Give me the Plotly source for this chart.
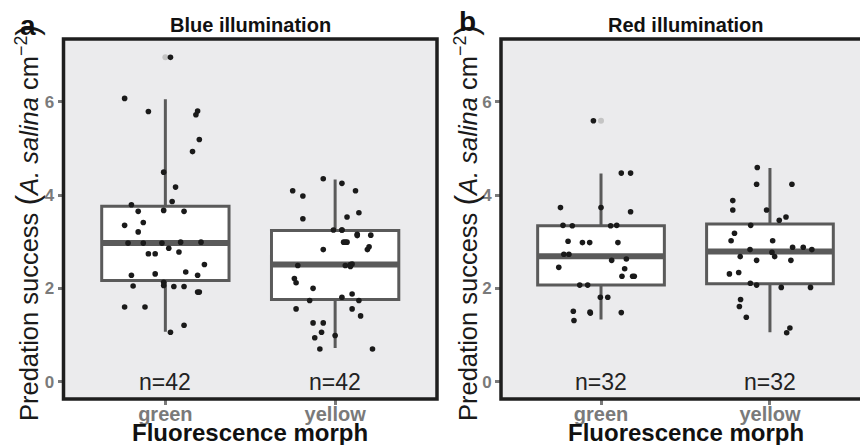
import plotly.graph_objects as go

# ---------------- data ----------------
categories = ["green", "yellow"]
panel_letters = ["a", "b"]
panel_titles = ["Blue illumination", "Red illumination"]
y_ticks = [0, 2, 4, 6]

# Panel a (blue illumination): jittered observations
a_green_y = [6.95, 6.07, 5.79, 5.80, 5.72, 5.19, 4.93, 4.49, 4.17, 3.86, 3.79, 3.65, 3.67, 3.65,
             3.35, 3.41, 3.21, 2.97, 2.97, 2.97, 2.99, 2.99, 2.86, 2.74, 2.74, 2.78, 2.51, 2.28,
             2.31, 2.35, 2.28, 2.13, 2.05, 2.06, 2.04, 2.04, 1.92, 1.92, 1.60, 1.60, 1.21, 1.06]
a_green_jit = [0.03, -0.24, -0.10, 0.19, 0.18, 0.20, 0.16, -0.01, 0.06, 0.04, -0.20, -0.16, -0.01, 0.11,
               -0.24, -0.13, -0.16, -0.22, -0.13, -0.02, 0.09, 0.21, 0.02, -0.10, -0.06, 0.08, 0.23, -0.20,
               -0.06, 0.12, 0.19, -0.01, -0.19, -0.01, 0.05, 0.11, 0.19, 0.20, -0.24, -0.12, 0.11, 0.03]
a_yellow_y = [4.35, 4.25, 4.09, 3.98, 4.09, 3.62, 3.49, 3.53, 3.25, 3.25, 3.16, 3.13, 3.14, 2.99,
              2.99, 2.83, 2.89, 2.83, 2.49, 2.49, 2.51, 2.52, 2.47, 2.21, 2.12, 2.00, 1.81, 1.88,
              1.74, 1.74, 1.56, 1.56, 1.41, 1.26, 1.26, 1.06, 0.99, 0.94, 0.70, 0.70, 2.99, 3.25]
a_yellow_jit = [-0.07, 0.04, -0.25, -0.19, 0.12, 0.14, -0.19, 0.07, -0.01, 0.04, 0.13, 0.13, 0.21, 0.05,
                0.07, -0.07, 0.20, 0.19, -0.22, 0.06, 0.09, 0.10, 0.09, -0.24, -0.23, -0.13, 0.04, 0.10,
                -0.15, 0.14, -0.23, 0.10, 0.15, -0.13, -0.07, -0.08, 0.00, -0.12, -0.09, 0.22, 0.06, 0.04]

# Panel b (red illumination)
b_green_y = [5.59, 4.47, 4.47, 3.73, 3.73, 3.64, 3.35, 3.34, 3.34, 3.35, 3.01, 2.98, 2.98, 2.98, 2.73, 2.73,
             2.60, 2.63, 2.45, 2.42, 2.26, 2.26, 2.26, 2.07, 2.07, 1.81, 1.81, 1.51, 1.49, 1.47, 1.48, 1.31]
b_green_jit = [-0.045, 0.12, 0.175, -0.24, 0.0, 0.175, -0.225, -0.17, 0.057, 0.093, -0.195, -0.11, -0.067, 0.10,
               -0.22, -0.19, 0.063, 0.15, -0.25, 0.14, 0.124, 0.187, 0.197, -0.126, -0.079, -0.004, 0.04,
               -0.164, -0.065, -0.063, 0.12, -0.16]
b_yellow_y = [4.59, 4.23, 4.23, 3.88, 3.68, 3.68, 3.46, 3.53, 3.35, 3.18, 3.02, 3.02, 2.83, 2.88, 2.88, 2.83,
              2.77, 2.68, 2.68, 2.60, 2.60, 2.31, 2.34, 2.11, 2.07, 2.02, 2.02, 1.76, 1.61, 1.38, 1.15, 1.05]
b_yellow_jit = [-0.075, -0.079, 0.13, -0.22, -0.22, -0.02, 0.055, 0.095, -0.114, -0.21, -0.23, 0.016, -0.118,
                0.134, 0.197, 0.248, 0.012, 0.028, -0.176, -0.079, 0.124, -0.24, -0.185, -0.116, -0.079,
                0.067, 0.24, -0.174, -0.181, -0.14, 0.118, 0.099]

# Box statistics [green, yellow]
a_q1 = [2.17, 1.76]
a_median = [2.97, 2.51]
a_q3 = [3.76, 3.24]
a_lower = [1.07, 0.72]
a_upper = [6.05, 4.33]
a_outliers = [[6.95], []]

b_q1 = [2.07, 2.10]
b_median = [2.69, 2.79]
b_q3 = [3.34, 3.38]
b_lower = [1.33, 1.06]
b_upper = [4.46, 4.58]
b_outliers = [[5.59], []]

# ---------------- styling ----------------
W, H = 860, 445
FONT = "Liberation Sans, Arial, Helvetica, sans-serif"
BOX_W = 0.75
BOX_COL = "#5a5a5a"
PT_COL = "#1a1a1a"
OUT_COL = "#c4c4c4"
BORDER = "#1e1e1e"
TICK_COL = "#7a7a7a"

panels = [
    dict(ys=[a_green_y, a_yellow_y], jit=[a_green_jit, a_yellow_jit], q1=a_q1, med=a_median, q3=a_q3,
         lo=a_lower, hi=a_upper, out=a_outliers),
    dict(ys=[b_green_y, b_yellow_y], jit=[b_green_jit, b_yellow_jit], q1=b_q1, med=b_median, q3=b_q3,
         lo=b_lower, hi=b_upper, out=b_outliers),
]

# pixel geometry of the panels
x_dom = [(63.5 / W, 437 / W), (501 / W, 1.0)]
x_rng = [(-0.6, 1.6), (-0.592, 1.533)]
y_dom = (1 - 399 / H, 1 - 39 / H)
y_rng = (-0.371, 7.343)
cx = [0, 1]

fig = go.Figure()
annotations = []
shapes = []

for p, pan in enumerate(panels):
    xr = "x" if p == 0 else "x2"
    yr = "y" if p == 0 else "y2"
    fig.add_trace(go.Box(
        x=cx, q1=pan["q1"], median=pan["med"], q3=pan["q3"],
        lowerfence=pan["lo"], upperfence=pan["hi"],
        width=BOX_W, whiskerwidth=0, fillcolor="white",
        line=dict(color=BOX_COL, width=3), boxpoints=False,
        xaxis=xr, yaxis=yr, hoverinfo="skip"))
    # thicker median bars
    for i in range(2):
        fig.add_trace(go.Scatter(
            x=[cx[i] - BOX_W / 2, cx[i] + BOX_W / 2], y=[pan["med"][i]] * 2,
            mode="lines", line=dict(color=BOX_COL, width=6),
            xaxis=xr, yaxis=yr, hoverinfo="skip"))
    # outliers (light grey, at the category centre)
    for i in range(2):
        if pan["out"][i]:
            fig.add_trace(go.Scatter(
                x=[cx[i]] * len(pan["out"][i]), y=pan["out"][i], mode="markers",
                marker=dict(color=OUT_COL, size=6), xaxis=xr, yaxis=yr, hoverinfo="skip"))
    # jittered points
    for i in range(2):
        fig.add_trace(go.Scatter(
            x=[cx[i] + d for d in pan["jit"][i]], y=pan["ys"][i], mode="markers",
            marker=dict(color=PT_COL, size=5.6), xaxis=xr, yaxis=yr, hoverinfo="skip"))
        annotations.append(dict(
            x=cx[i], y=0, xref=xr, yref=yr, text=f"n={len(pan['ys'][i])}",
            showarrow=False, yanchor="middle", xanchor="center",
            font=dict(family=FONT, size=23, color="#222222")))
    # panel border
    shapes.append(dict(type="rect", xref=f"{xr} domain", yref=f"{yr} domain",
                       x0=0, x1=1 if p == 0 else 1.2, y0=0, y1=1,
                       line=dict(color=BORDER, width=3.5), fillcolor="rgba(0,0,0,0)", layer="above"))

axis_common = dict(showgrid=False, zeroline=False, showline=False, ticks="outside",
                   ticklen=5, tickwidth=3, tickcolor=TICK_COL)

layout = dict(width=W, height=H, margin=dict(l=0, r=0, t=0, b=0),
              paper_bgcolor="white", plot_bgcolor="#EBEBED", showlegend=False)
for p in range(2):
    sx = "" if p == 0 else "2"
    layout[f"xaxis{sx}"] = dict(domain=list(x_dom[p]), range=list(x_rng[p]), tickvals=cx,
                                ticktext=[f"<b>{c}</b>" for c in categories], anchor=f"y{sx}",
                                ticklabelstandoff=-8,
                                tickfont=dict(family=FONT, size=20, color=TICK_COL),
                                **axis_common)
    layout[f"yaxis{sx}"] = dict(domain=list(y_dom), range=list(y_rng), tickvals=y_ticks,
                                ticktext=[f"<b>{v}</b>" for v in y_ticks], anchor=f"x{sx}",
                                tickfont=dict(family=FONT, size=17, color=TICK_COL),
                                **axis_common)

ytitle = ("Predation success <span style='font-size:32px'>(</span><i>A. salina</i> cm"
          "<sup>\u22122</sup><span style='font-size:32px'>)</span>")
label_x = [27.5, 467]
label_y = [25, 22]
title_x = [250, 686]
axis_title_x = [27, 466]
xtitle_x = [250, 686]


def paper_ann(px, py, text, size, color, **kw):
    d = dict(x=px / W, y=1 - py / H, xref="paper", yref="paper", text=text, showarrow=False,
             xanchor="center", yanchor="middle", font=dict(family=FONT, size=size, color=color))
    d.update(kw)
    return d


for p in range(2):
    annotations.append(paper_ann(axis_title_x[p], 223, ytitle, 25.5, "#1a1a1a", textangle=-90))
    annotations.append(paper_ann(label_x[p], label_y[p], f"<b>{panel_letters[p]}</b>", 28, "#111111"))
    annotations.append(paper_ann(title_x[p], 25, f"<b>{panel_titles[p]}</b>", 20, "#111111"))
    annotations.append(paper_ann(xtitle_x[p], 432, "<b>Fluorescence morph</b>", 24, "#111111"))

layout["annotations"] = annotations
layout["shapes"] = shapes
fig.update_layout(**layout)
fig.write_html("out.html")
